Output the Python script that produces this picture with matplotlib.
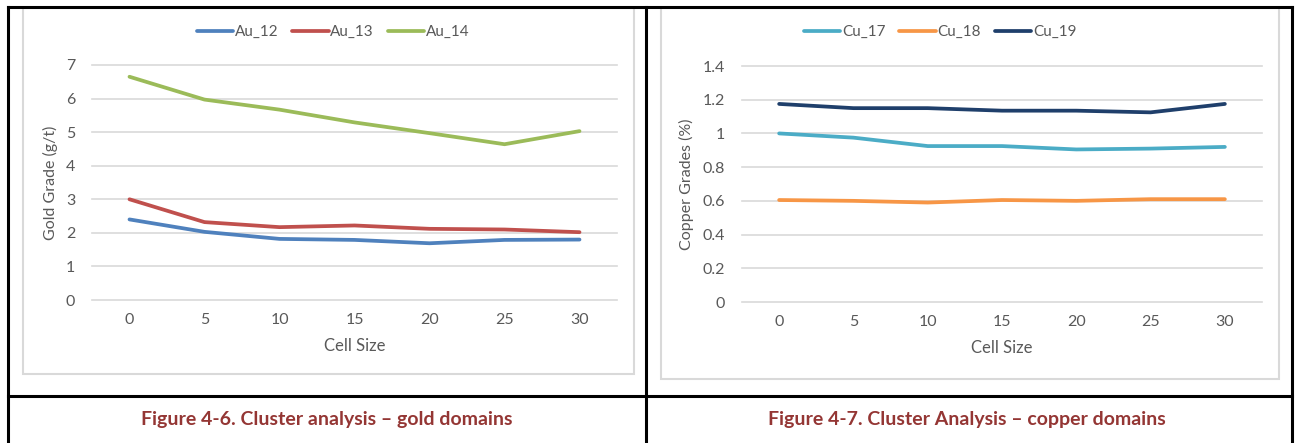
import matplotlib
matplotlib.use("Agg")
import matplotlib.pyplot as plt
from matplotlib.lines import Line2D
from matplotlib.patches import Rectangle

plt.rcParams['font.family'] = ['Lato', 'DejaVu Sans']

cell_sizes = ["0", "5", "10", "15", "20", "25", "30"]

au_12 = [2.40, 2.03, 1.82, 1.79, 1.69, 1.79, 1.80]
au_13 = [3.00, 2.32, 2.17, 2.22, 2.12, 2.10, 2.02]
au_14 = [6.65, 5.97, 5.67, 5.29, 4.97, 4.64, 5.03]

cu_17 = [1.000, 0.975, 0.925, 0.925, 0.905, 0.910, 0.920]
cu_18 = [0.605, 0.600, 0.590, 0.605, 0.600, 0.610, 0.610]
cu_19 = [1.175, 1.150, 1.150, 1.135, 1.135, 1.125, 1.175]

gold_names = ["Au_12", "Au_13", "Au_14"]
gold_colors = ["#4F81BD", "#C0504D", "#9BBB59"]
copper_names = ["Cu_17", "Cu_18", "Cu_19"]
copper_colors = ["#4BACC6", "#F79646", "#1F3F6B"]

caption_left = "Figure 4-6. Cluster analysis \u2013 gold domains"
caption_right = "Figure 4-7. Cluster Analysis \u2013 copper domains"

W, H = 1296, 443
fig = plt.figure(figsize=(W / 100, H / 100), dpi=100)

def fx(px):
    return px / W

def fy(py):
    return 1 - py / H

# chart frames (light gray)
for (x0, y0, x1, y1) in [(22.5, 8, 634, 374), (660.5, 8, 1279, 379)]:
    fig.patches.append(Rectangle((fx(x0), fy(y1)), fx(x1) - fx(x0), fy(y0) - fy(y1),
                                 transform=fig.transFigure, fill=False,
                                 edgecolor="#D9D9D9", linewidth=1.5))

# table lines (black)
lw = 2.2
for (xa, ya, xb, yb) in [(8, 7, 1292, 7), (8, 395.5, 1292, 395.5),
                         (8, 7, 8, 443), (646, 7, 646, 443), (1292, 7, 1292, 443)]:
    fig.add_artist(Line2D([fx(xa), fx(xb)], [fy(ya), fy(yb)], transform=fig.transFigure,
                          color="black", linewidth=lw, solid_capstyle="projecting"))

tick_color = "#595959"

def make_axes(rect, series, names, colors, ylim, yticks, ylabel, legend_x):
    ax = fig.add_axes(rect)
    x = list(range(len(cell_sizes)))
    for vals, name, col in zip(series, names, colors):
        ax.plot(x, vals, color=col, linewidth=2.7, label=name, solid_capstyle="round",
                solid_joinstyle="round")
    ax.set_xlim(-0.5, len(cell_sizes) - 0.5)
    ax.set_ylim(*ylim)
    ax.set_yticks(yticks)
    ax.set_yticklabels([("%g" % t) for t in yticks])
    ax.set_xticks(x)
    ax.set_xticklabels(cell_sizes)
    ax.grid(axis="y", color="#D9D9D9", linewidth=1.2)
    for gl in ax.get_ygridlines():
        gl.set_clip_on(False)
    ax.set_axisbelow(True)
    for s in ax.spines.values():
        s.set_visible(False)
    ax.tick_params(axis="both", length=0, colors=tick_color, labelsize=11.5)
    ax.tick_params(axis="x", pad=9)
    ax.tick_params(axis="y", pad=12)
    ax.set_xlabel("Cell Size", color=tick_color, fontsize=12, labelpad=8)
    ax.set_ylabel(ylabel, color=tick_color, fontsize=11.5, labelpad=6)
    leg = ax.legend(loc="center", bbox_to_anchor=(legend_x, fy(32)),
                    bbox_transform=fig.transFigure, ncol=3, frameon=False,
                    handlelength=2.4, handletextpad=0.1, columnspacing=0.9,
                    fontsize=11)
    for t in leg.get_texts():
        t.set_color(tick_color)
    return ax

make_axes([fx(92), fy(300), fx(617) - fx(92), fy(65) - fy(300)],
          [au_12, au_13, au_14], gold_names, gold_colors,
          (0, 7), list(range(0, 8)), "Gold Grade (g/t)", fx(333))

make_axes([fx(742), fy(302), fx(1262) - fx(742), fy(66) - fy(302)],
          [cu_17, cu_18, cu_19], copper_names, copper_colors,
          (0, 1.4), [0, 0.2, 0.4, 0.6, 0.8, 1.0, 1.2, 1.4], "Copper Grades (%)", fx(940))

cap_color = "#943634"
fig.text(fx(327), fy(419), caption_left, ha="center", va="center", color=cap_color,
         fontsize=14, fontweight="bold")
fig.text(fx(967), fy(419), caption_right, ha="center", va="center", color=cap_color,
         fontsize=14, fontweight="bold")

fig.savefig("out.png", dpi=100)
